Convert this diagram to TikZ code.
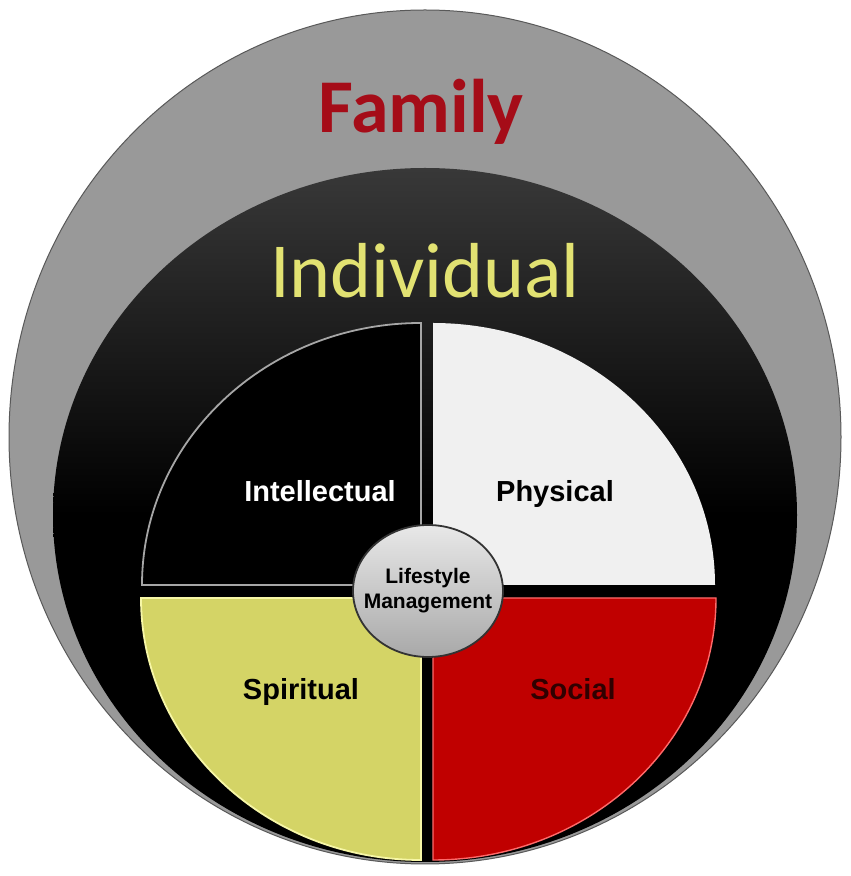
\documentclass[tikz,border=0pt]{standalone}
\usepackage{fontspec}
\setmainfont{Liberation Sans}
\newfontfamily\calibri{Carlito}
\usetikzlibrary{shapes.geometric}

\definecolor{ringgray}{HTML}{999999}
\definecolor{famred}{HTML}{A50C18}
\definecolor{indyellow}{HTML}{E2E272}
\definecolor{physwhite}{HTML}{F0F0F0}
\definecolor{spiryellow}{HTML}{D4D466}
\definecolor{spiredge}{HTML}{F6F6A6}
\definecolor{socred}{HTML}{C00000}
\definecolor{socedge}{HTML}{FF6A6A}
\definecolor{soctext}{HTML}{300000}

\begin{document}
\begin{tikzpicture}[x=1pt, y=1pt,
		quadlabel/.style={font=\bfseries\fontsize{29}{32}\selectfont, anchor=base},
		hub/.style={ellipse, minimum width=150pt, minimum height=132pt, inner xsep=-24pt, inner ysep=0pt,
			top color=gray!18, bottom color=gray!68, draw=gray!40!black, line width=1.8pt,
			align=center, font=\bfseries\fontsize{21}{25}\selectfont, text=black}]
		\useasboundingbox (0,0) rectangle (851,876);
		
		% Rings
		\fill[ringgray, draw=black!65, line width=1pt] (425,439) ellipse [x radius=416pt, y radius=427pt];
		\shade[top color=black!78!white, bottom color=black, middle color=black] (425,361) ellipse [x radius=372pt, y radius=347pt];
		
		% Quadrants
		\fill[black, draw=gray!70, line width=1.8pt] (421,291) -- ++(-279,0) arc[start angle=180, end angle=90, x radius=279pt, y radius=262pt] -- cycle;
		\fill[physwhite] (433,291) -- ++(0,262) arc[start angle=90, end angle=0, x radius=282pt, y radius=262pt] -- cycle;
		\fill[spiryellow, draw=spiredge, line width=1.8pt] (421,278) -- ++(0,-262) arc[start angle=270, end angle=180, x radius=280pt, y radius=262pt] -- cycle;
		\fill[socred, draw=socedge, line width=1.4pt] (433,278) -- ++(283,0) arc[start angle=0, end angle=-90, x radius=283pt, y radius=262pt] -- cycle;
		
		% Nodes
		\node (family) at (421,743) [anchor=base, text=famred, font=\calibri\bfseries\fontsize{76}{80}\selectfont] {Family};
		\node (individual) at (425,578) [anchor=base, text=indyellow, font=\calibri\fontsize{78}{82}\selectfont] {Individual};
		
		\node (intellectual) at (320,374) [quadlabel, text=white] {Intellectual};
		\node (physical) at (555,374) [quadlabel, text=black] {Physical};
		\node (spiritual) at (301,176) [quadlabel, text=black] {Spiritual};
		\node (social) at (573,176) [quadlabel, text=soctext] {Social};
		
		\node (lifestyle) at (428,285) [hub] {Lifestyle\\Management};
		
	\end{tikzpicture}
\end{document}
